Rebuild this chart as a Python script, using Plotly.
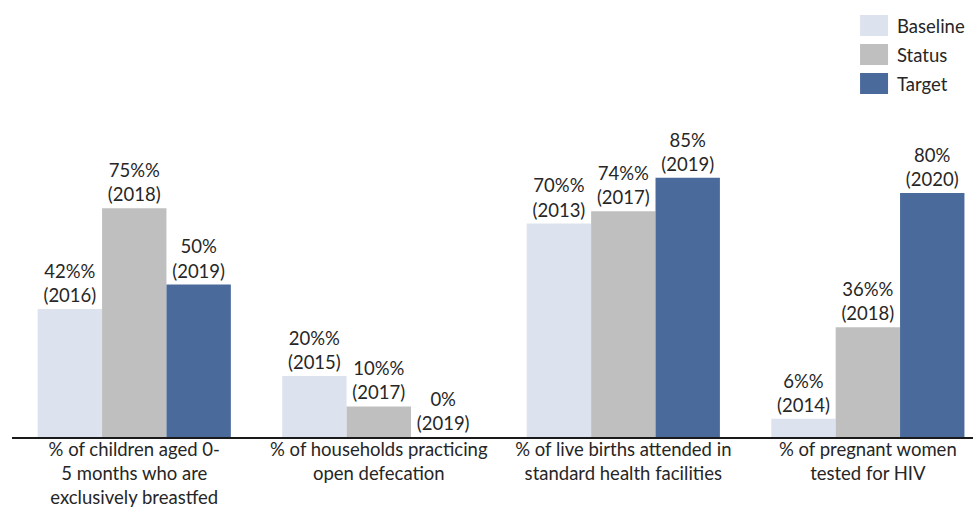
import plotly.graph_objects as go

# Indicator categories (x axis)
categories = [
    "% of children aged 0-<br>5 months who are<br>exclusively breastfed",
    "% of households practicing<br>open defecation",
    "% of live births attended in<br>standard health facilities",
    "% of pregnant women<br>tested for HIV",
]

series_names = ["Baseline", "Status", "Target"]

baseline_values = [42, 20, 70, 6]
baseline_years = [2016, 2015, 2013, 2014]

status_values = [75, 10, 74, 36]
status_years = [2018, 2017, 2017, 2018]

target_values = [50, 0, 85, 80]
target_years = [2019, 2019, 2019, 2020]

# Label suffix as printed for each series
label_suffix = ["%%", "%%", "%"]

colors = ["#dde3ee", "#bfbfbf", "#4a6a9b"]
FONT = "Lato, 'Open Sans', sans-serif"
TEXT_COLOR = "#262626"
FS = 18.5

values = [baseline_values, status_values, target_values]
years = [baseline_years, status_years, target_years]

fig = go.Figure()
for name, vals, yrs, suf, col in zip(series_names, values, years, label_suffix, colors):
    fig.add_trace(go.Bar(
        name=name,
        x=list(range(len(categories))),
        y=vals,
        marker=dict(color=col, line=dict(width=0)),
        text=[f"{v}{suf}<br>({y})" for v, y in zip(vals, yrs)],
        textposition="outside",
        constraintext="none",
        cliponaxis=False,
        textfont=dict(family=FONT, size=FS, color=TEXT_COLOR),
        showlegend=False,
    ))

# Legend drawn as swatches + labels in the top-right corner
for i, (name, col) in enumerate(zip(series_names, colors)):
    y0 = 15 + i * 29
    fig.add_shape(type="rect", xref="paper", yref="paper",
                  x0=(860 - 11.5) / 961.5, x1=(888 - 11.5) / 961.5,
                  y0=1 - (y0 - 100 + 21) / 337, y1=1 - (y0 - 100) / 337,
                  fillcolor=col, line=dict(width=0), layer="above")
    fig.add_annotation(xref="paper", yref="paper",
                       x=(895 - 11.5) / 961.5, y=1 - (y0 + 10.5 - 100) / 337,
                       xanchor="left", yanchor="middle", showarrow=False,
                       text=name, font=dict(family=FONT, size=FS, color=TEXT_COLOR))

fig.update_layout(
    width=973, height=507,
    margin=dict(l=11.5, r=0, t=100, b=70, autoexpand=False),
    paper_bgcolor="white", plot_bgcolor="white",
    barmode="group", bargap=0.21, bargroupgap=0,
    font=dict(family=FONT, size=FS, color=TEXT_COLOR),
    xaxis=dict(
        tickmode="array", tickvals=list(range(len(categories))), ticktext=categories,
        range=[-0.5, 3.43], showline=True, linecolor="#1a1a1a", linewidth=2,
        ticks="", showgrid=False, zeroline=False, automargin=False,
        ticklabelstandoff=-5,
        tickfont=dict(family=FONT, size=FS, color=TEXT_COLOR),
    ),
    yaxis=dict(range=[0, 110.5], visible=False, showgrid=False, zeroline=False,
               automargin=False),
)

fig.write_html("out.html")
